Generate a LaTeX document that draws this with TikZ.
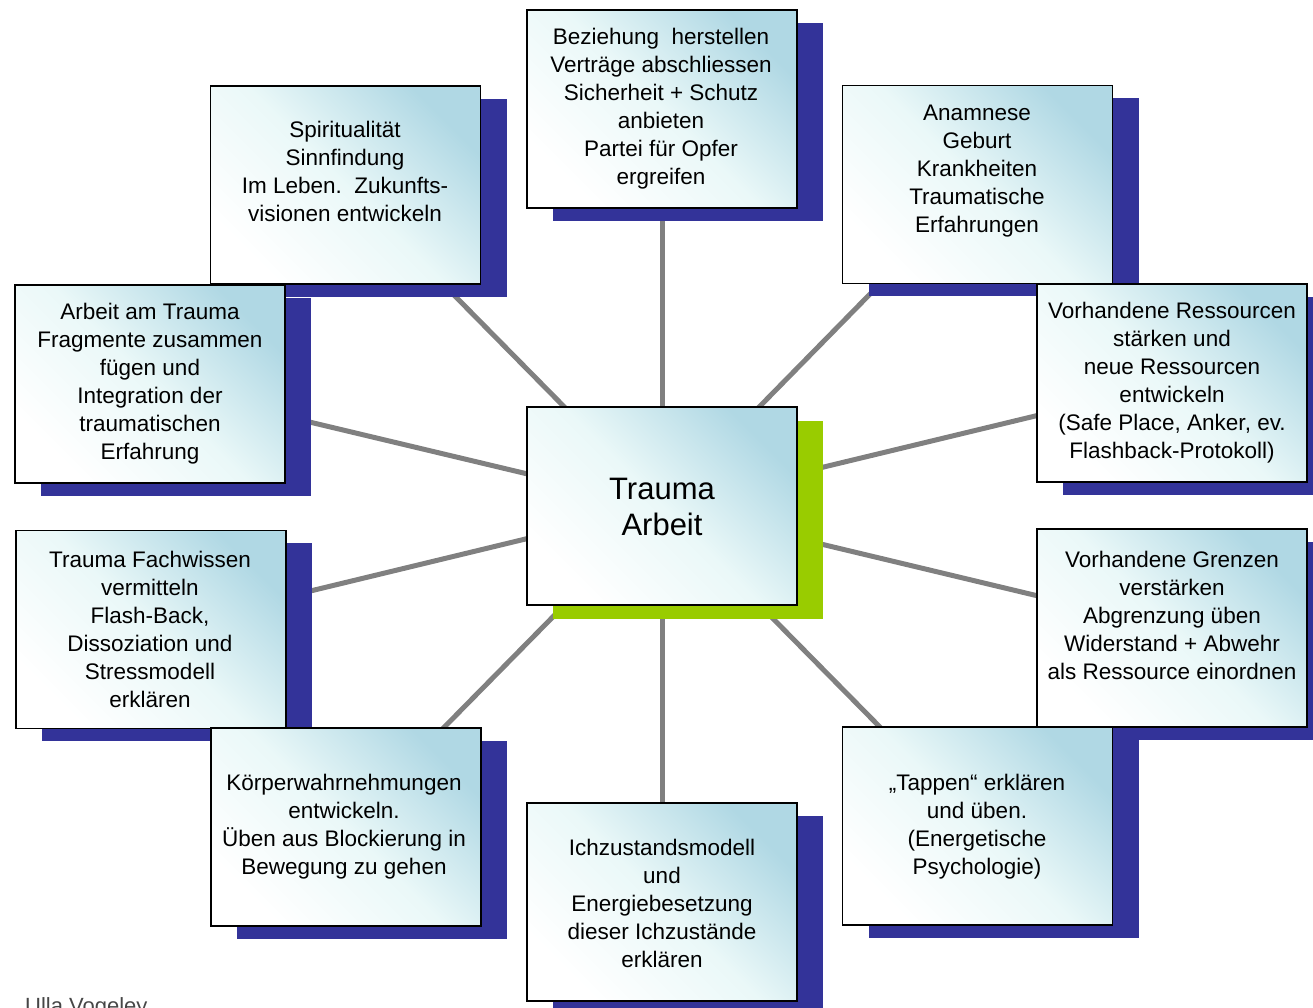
\documentclass[tikz,border=0pt]{standalone}
\usepackage{fontspec}
\setmainfont{Liberation Sans}
\usetikzlibrary{shadows,backgrounds}
\definecolor{shblue}{RGB}{51,51,153}
\definecolor{shgreen}{RGB}{153,204,0}
\definecolor{linegray}{RGB}{128,128,128}
\definecolor{boxblue}{RGB}{176,216,228}
\definecolor{boxmid}{RGB}{234,248,248}
\definecolor{authorgray}{RGB}{70,70,70}
\begin{document}
\begin{tikzpicture}[x=1pt,y=-1pt,
  box/.style={draw=black, line width=1.5pt, minimum width=270pt, minimum height=198pt,
    inner sep=0pt, outer sep=0pt, top color=boxblue, bottom color=white, middle color=boxmid,
    shading angle=-45},
  blueshadow/.style={general shadow={fill=shblue, shadow xshift=26pt, shadow yshift=-12.5pt}},
  greenshadow/.style={general shadow={fill=shgreen, shadow xshift=26pt, shadow yshift=-13.5pt}},
  txt/.style={align=center, font=\fontsize{22.5}{28}\selectfont, inner sep=0pt},
  bigtxt/.style={align=center, font=\fontsize{31}{36}\selectfont, inner sep=0pt},
  conn/.style={draw=linegray, line width=5pt}]
\useasboundingbox (0,0) rectangle (1313,1007);
\begin{scope}
\clip (0,0) rectangle (1313,1007);
% boxes
\node[box, blueshadow] (B) at (662,109) {};
\node[txt] (Bt) at (661,109) {Beziehung\ \ herstellen\\Verträge abschliessen\\Sicherheit + Schutz\\anbieten\\Partei für Opfer\\ergreifen};
\node[box, blueshadow] (S) at (345.5,185) {};
\node[txt] (St) at (345,171) {Spiritualität\\Sinnfindung\\Im Leben.\ \ Zukunfts-\\visionen entwickeln};
\node[box, blueshadow] (A) at (977.5,184.5) {};
\node[txt] (At) at (977,171) {Anamnese\\Geburt\\Krankheiten\\Traumatische\\Erfahrungen};
\node[box, blueshadow] (T) at (150,384) {};
\node[txt] (Tt) at (150,384) {Arbeit am Trauma\\Fragmente zusammen\\fügen und\\Integration der\\traumatischen\\Erfahrung};
\node[box, blueshadow] (R) at (1172,383) {};
\node[txt] (Rt) at (1172,383) {Vorhandene Ressourcen\\stärken und\\neue Ressourcen\\entwickeln\\(Safe Place, Anker, ev.\\Flashback-Protokoll)};
\node[box, greenshadow] (C) at (662,506) {};
\node[bigtxt] (Ct) at (662,507) {Trauma\\Arbeit};
\node[box, blueshadow] (F) at (151,629.5) {};
\node[txt] (Ft) at (150,629) {Trauma Fachwissen\\vermitteln\\Flash-Back,\\Dissoziation und\\Stressmodell\\erklären};
\node[box, blueshadow] (G) at (1172,628) {};
\node[txt] (Gt) at (1172,615) {Vorhandene Grenzen\\verstärken\\Abgrenzung üben\\Widerstand + Abwehr\\als Ressource einordnen};
\node[box, blueshadow] (K) at (346,827) {};
\node[txt] (Kt) at (344,827) {Körperwahrnehmungen\\entwickeln.\\Üben aus Blockierung in\\Bewegung zu gehen};
\node[box, blueshadow] (P) at (977.5,826) {};
\node[txt] (Pt) at (977,827) {„Tappen“ erklären\\und üben.\\(Energetische\\Psychologie)};
\node[box, blueshadow] (I) at (662,902) {};
\node[txt] (It) at (662,903) {Ichzustandsmodell\\und\\Energiebesetzung\\dieser Ichzustände\\erklären};
\node[anchor=base west, inner sep=0pt, font=\fontsize{22}{26}\selectfont, text=authorgray] (author) at (25,1013) {Ulla Vogeley};
\end{scope}
% connectors behind everything
\begin{scope}[on background layer]
\foreach \n in {B,S,A,T,R,F,G,K,P,I}
  \draw[conn] (C.center) -- (\n.center);
\end{scope}
\end{tikzpicture}
\end{document}
